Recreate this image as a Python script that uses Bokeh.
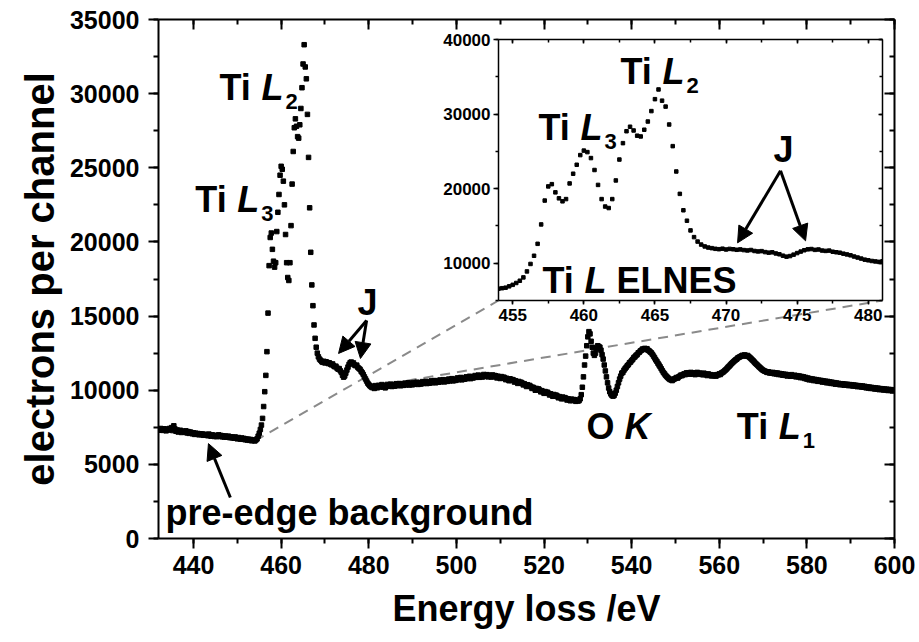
import numpy as np
from bokeh.plotting import figure
from bokeh.models import (Range1d, LinearAxis, SingleIntervalTicker, Label, Arrow,
                          NormalHead, ColumnDataSource, CustomJSTickFormatter)
from bokeh.embed import file_html
from bokeh.resources import INLINE

FONT = "Liberation Sans"

# ---------------- data: EELS spectrum, 0.25 eV per channel ----------------
E_START = 432.0
E_STEP = 0.25

counts_pre = [  # 432.00 - 454.75 eV
    7380, 7300, 7420, 7350, 7290, 7400, 7330, 7260, 7380, 7310, 7420, 7350,
    7480, 7280, 7600, 7390, 7230, 7320, 7180, 7260, 7300, 7150, 7240, 7200,
    7170, 7260, 7120, 7210, 7090, 7180, 7140, 7060, 7130, 7020, 7100, 7050,
    7080, 6990, 7060, 7010, 7050, 6960, 7030, 6980, 7000, 6930, 7040, 6950,
    6900, 6990, 6940, 6880, 6960, 6870, 6930, 6990, 6880, 6950, 6860, 6920,
    6840, 6910, 6830, 6880, 6900, 6800, 6860, 6790, 6830, 6760, 6850, 6780,
    6720, 6810, 6740, 6700, 6780, 6690, 6750, 6660, 6710, 6640, 6700, 6620,
    6680, 6590, 6650, 6610, 6580, 6650, 6720, 6900,
]
counts_edge = [  # 455.00 - 468.75 eV (Ti L3 / L2)
    7100, 7350, 7650, 8100, 8900, 9900, 11000, 12600,
    15200, 18400, 20300, 20600, 19500, 18700, 18300, 18600,
    20700, 22000, 23200, 24500, 25100, 24900, 24100, 22500,
    20500, 18600, 17600, 17400, 18600, 21100, 23900, 26100,
    27700, 28300, 27800, 27100, 27000, 27900, 29000, 30400,
    32000, 33300, 31800, 31000, 28600, 25700, 22300, 19300,
    17100, 15700, 14400, 13500, 12900, 12500, 12250, 12100,
]
counts_j = [  # 469.00 - 480.75 eV
    12020, 11930, 11880, 11950, 11840, 11920, 11870, 11800,
    11850, 11760, 11710, 11770, 11640, 11580, 11620, 11490,
    11420, 11460, 11310, 11200, 11010, 10880, 10960, 11150,
    11360, 11560, 11740, 11860, 11900, 11790, 11840, 11700,
    11650, 11690, 11540, 11470, 11410, 11280, 11180, 11060,
    10900, 10760, 10620, 10480, 10390, 10300, 10240, 10180,
]
counts_mid = [  # 481.00 - 527.75 eV
    10260, 10120, 10310, 10180, 10170, 10330, 10220, 10290,
    10380, 10210, 10300, 10160, 10240, 10390, 10270, 10350,
    10410, 10250, 10360, 10290, 10280, 10440, 10320, 10400,
    10450, 10300, 10420, 10330, 10330, 10480, 10360, 10440,
    10500, 10350, 10460, 10380, 10370, 10520, 10400, 10490,
    10540, 10390, 10500, 10420, 10430, 10580, 10460, 10550,
    10600, 10450, 10560, 10480, 10490, 10630, 10510, 10590,
    10650, 10500, 10620, 10540, 10540, 10690, 10570, 10650,
    10710, 10560, 10680, 10600, 10600, 10750, 10630, 10720,
    10780, 10630, 10740, 10660, 10690, 10830, 10710, 10790,
    10860, 10700, 10820, 10740, 10760, 10900, 10790, 10870,
    10940, 10780, 10900, 10830, 10850, 10990, 10870, 10950,
    11020, 10870, 10980, 10900, 10900, 11060, 10930, 11010,
    11050, 10900, 11010, 10930, 10890, 11030, 10920, 10990,
    10970, 10830, 10940, 10860, 10790, 10920, 10810, 10880,
    10850, 10710, 10800, 10730, 10640, 10770, 10660, 10720,
    10690, 10550, 10640, 10570, 10460, 10590, 10490, 10540,
    10480, 10360, 10440, 10370, 10250, 10370, 10270, 10320,
    10240, 10120, 10200, 10130, 10000, 10120, 10030, 10090,
    10010, 9890, 9970, 9900, 9790, 9910, 9810, 9870,
    9800, 9680, 9760, 9690, 9590, 9710, 9610, 9670,
    9610, 9490, 9570, 9500, 9420, 9540, 9440, 9500,
    9460, 9340, 9420, 9350, 9290, 9400, 9310, 9370,
    9360, 9250, 9330, 9270,
]
counts_ok = [  # 528.00 - 537.75 eV (O K)
    9300, 9420, 9700, 10200, 10900, 11700, 12300, 13000,
    13600, 13950, 13800, 13300, 12900, 12500, 12350, 12500,
    12800, 13000, 12950, 12900, 12700, 12400, 12100, 11700,
    11300, 10900, 10500, 10150, 9900, 9750, 9650, 9600,
    9650, 9800, 10000, 10250, 10500, 10750, 10950, 11150,
]
counts_high = [  # 538.00 - 600.00 eV (Ti L1)
    11200, 11350, 11450, 11550, 11650, 11720, 11850, 11900,
    12000, 12080, 12200, 12250, 12350, 12400, 12520, 12560,
    12650, 12700, 12780, 12760, 12820, 12750, 12800, 12700,
    12650, 12580, 12520, 12420, 12300, 12180, 12050, 11950,
    11820, 11700, 11580, 11450, 11320, 11200, 11100, 11000,
    10920, 10850, 10780, 10720, 10700, 10650, 10720, 10760,
    10800, 10860, 10820, 10900, 10950, 11020, 10980, 11060,
    11100, 11050, 11170, 11120, 11180, 11080, 11200, 11130,
    11090, 11180, 11050, 11150, 11200, 11100, 11160, 11070,
    11120, 11040, 11150, 11060, 11080, 10990, 11100, 11020,
    11050, 10960, 11030, 10980, 11000, 10950, 11050, 11030,
    11100, 11060, 11160, 11200, 11250, 11320, 11380, 11460,
    11550, 11620, 11700, 11780, 11850, 11920, 11990, 12050,
    12100, 12180, 12220, 12260, 12300, 12350, 12310, 12380,
    12350, 12300, 12340, 12260, 12200, 12130, 12050, 11980,
    11900, 11820, 11750, 11680, 11600, 11540, 11470, 11400,
    11350, 11300, 11280, 11230, 11200, 11240, 11160, 11190,
    11150, 11200, 11110, 11170, 11100, 11160, 11060, 11130,
    11050, 11110, 11010, 11080, 11000, 11070, 10960, 11040,
    11000, 10940, 11050, 10970, 10950, 11010, 10900, 10980,
    10900, 10960, 10850, 10930, 10850, 10900, 10790, 10860,
    10750, 10820, 10700, 10780, 10700, 10760, 10650, 10730,
    10650, 10710, 10600, 10680, 10600, 10660, 10550, 10630,
    10550, 10610, 10500, 10590, 10500, 10560, 10460, 10540,
    10450, 10510, 10410, 10490, 10400, 10460, 10370, 10440,
    10380, 10430, 10340, 10410, 10350, 10400, 10310, 10380,
    10320, 10370, 10280, 10350, 10280, 10330, 10240, 10310,
    10250, 10300, 10210, 10280, 10200, 10260, 10160, 10230,
    10150, 10210, 10120, 10190, 10120, 10170, 10080, 10150,
    10080, 10140, 10040, 10110, 10050, 10100, 10010, 10080,
    10020, 10070, 9980, 10050, 9990, 10040, 9950, 10010,
    9980,
]

counts = np.array(counts_pre + counts_edge + counts_j + counts_mid + counts_ok + counts_high, dtype=float)
energy = E_START + E_STEP * np.arange(len(counts))

# axis ranges / ticks
MAIN_X = (432, 600)
MAIN_Y = (0, 35000)
MAIN_X_STEP, MAIN_Y_STEP = 20, 5000
INSET_X = (454, 481)
INSET_Y = (5000, 40000)
INSET_X_STEP, INSET_Y_STEP = 5, 10000

# ---------------- layout constants (page pixels) ----------------
PAGE_W, PAGE_H = 919, 642
M_L, M_R, M_T, M_B = 158, 25, 19, 104
M_FW = PAGE_W - M_L - M_R
M_FH = PAGE_H - M_T - M_B
I_FL, I_FT, I_FW, I_FH = 498, 39, 384, 261   # inset frame in page px
I_L, I_R, I_T, I_B = 60, 6, 10, 30           # inset borders
TEXT_LIFT = 11                                # baseline correction (px)

src = ColumnDataSource(dict(x=energy, y=counts))
BLANK = CustomJSTickFormatter(code="return ''")


def style_axis(ax, size, out_major, in_major, out_minor, in_minor, lw, standoff):
    ax.axis_line_width = lw
    ax.axis_line_color = "black"
    ax.major_tick_line_width = lw
    ax.minor_tick_line_width = lw
    ax.major_tick_line_color = "black"
    ax.minor_tick_line_color = "black"
    ax.major_tick_out = out_major
    ax.major_tick_in = in_major
    ax.minor_tick_out = out_minor
    ax.minor_tick_in = in_minor
    ax.major_label_text_font = FONT
    ax.major_label_text_font_style = "bold"
    ax.major_label_text_font_size = size
    ax.major_label_text_color = "black"
    ax.major_label_standoff = standoff


def mirror_axis(fig, step, where, tick_in, minor_in, lw):
    ax = LinearAxis(ticker=SingleIntervalTicker(interval=step, num_minor_ticks=2),
                    formatter=BLANK)
    style_axis(ax, "1px", 0, tick_in, 0, minor_in, lw, 0)
    fig.add_layout(ax, where)


# ---------------- main figure ----------------
main = figure(width=PAGE_W, height=PAGE_H, x_range=Range1d(*MAIN_X), y_range=Range1d(*MAIN_Y),
              output_backend="svg", toolbar_location=None,
              min_border_left=M_L, min_border_right=M_R, min_border_top=M_T, min_border_bottom=M_B,
              background_fill_color="white", border_fill_color="white", outline_line_color=None)
main.xgrid.grid_line_color = None
main.ygrid.grid_line_color = None
main.xaxis.ticker = SingleIntervalTicker(interval=MAIN_X_STEP, num_minor_ticks=2)
main.yaxis.ticker = SingleIntervalTicker(interval=MAIN_Y_STEP, num_minor_ticks=2)
style_axis(main.xaxis[0], "25px", 10, 0, 5, 0, 2, 7)
style_axis(main.yaxis[0], "25px", 10, 0, 5, 0, 2, 9)
for ax, txt, so, fs in ((main.xaxis[0], "Energy loss /eV", 11, "36px"),
                        (main.yaxis[0], "electrons per channel", 5, "40px")):
    ax.axis_label = txt
    ax.axis_label_text_font = FONT
    ax.axis_label_text_font_style = "bold"
    ax.axis_label_text_font_size = fs
    ax.axis_label_text_color = "black"
    ax.axis_label_standoff = so

mirror_axis(main, MAIN_X_STEP, "above", 10, 5, 2)
mirror_axis(main, MAIN_Y_STEP, "right", 10, 5, 2)


def page_to_main(px, py):
    x = MAIN_X[0] + (px - M_L) / M_FW * (MAIN_X[1] - MAIN_X[0])
    y = MAIN_Y[0] + (M_T + M_FH - py) / M_FH * (MAIN_Y[1] - MAIN_Y[0])
    return x, y


# dashed connectors from the zoomed energy window to the inset frame corners
bl = page_to_main(I_FL, I_FT + I_FH)
br = page_to_main(I_FL + I_FW, I_FT + I_FH)
for e_end, corner in ((INSET_X[0], bl), (INSET_X[1], br)):
    main.line([e_end, corner[0]], [float(np.interp(e_end, energy, counts)), corner[1]],
              line_color="#8a8a8a", line_width=2, line_dash="10 7")

main.scatter("x", "y", source=src, marker="square", size=4.5, color="black")


def add_peak_label(fig, x, y, parts, size=36, sub_size=22):
    """parts: list of (text, style) where style in 'b', 'bi', 'sub'."""
    off = 0.0
    widths = {"Ti ": 1.167, "O ": 1.056, "L": 0.611, "K": 0.722, "L ": 0.889}
    for text, style in parts:
        if style == "sub":
            fig.add_layout(Label(x=x, y=y, x_offset=off + 2, y_offset=TEXT_LIFT - 14, text=text,
                                 text_font=FONT, text_font_style="bold",
                                 text_font_size=f"{sub_size}px", text_color="black",
                                 text_baseline="alphabetic", text_align="left"))
        else:
            fig.add_layout(Label(x=x, y=y, x_offset=off, y_offset=TEXT_LIFT, text=text,
                                 text_font=FONT,
                                 text_font_style="bold italic" if style == "bi" else "bold",
                                 text_font_size=f"{size}px", text_color="black",
                                 text_baseline="alphabetic", text_align="left"))
            off += widths.get(text, 0.6) * size


def add_arrow(fig, x0, y0, x1, y1, lw=3, head=16):
    fig.add_layout(Arrow(x_start=x0, y_start=y0, x_end=x1, y_end=y1, line_width=lw,
                         line_color="black",
                         end=NormalHead(size=head, fill_color="black", line_color="black",
                                        line_width=1)))


add_peak_label(main, 445.9, 29700, [("Ti ", "b"), ("L", "bi"), ("2", "sub")])
add_peak_label(main, 440.4, 22100, [("Ti ", "b"), ("L", "bi"), ("3", "sub")])
add_peak_label(main, 529.7, 6840, [("O ", "b"), ("K", "bi")])
add_peak_label(main, 564.0, 6840, [("Ti ", "b"), ("L", "bi"), ("1", "sub")])
add_peak_label(main, 477.4, 15170, [("J", "b")])
add_peak_label(main, 433.6, 1010, [("pre-edge background", "b")])
add_arrow(main, 479.5, 14700, 473.1, 12480)
add_arrow(main, 479.5, 14700, 478.1, 12140)
add_arrow(main, 448.4, 2765, 443.4, 6400)

# ---------------- inset figure ----------------
inset = figure(width=I_L + I_FW + I_R, height=I_T + I_FH + I_B,
               x_range=Range1d(*INSET_X), y_range=Range1d(*INSET_Y),
               output_backend="svg", toolbar_location=None,
               min_border_left=I_L, min_border_right=I_R, min_border_top=I_T, min_border_bottom=I_B,
               background_fill_color="white", border_fill_alpha=0, outline_line_color=None,
               styles={"position": "absolute", "left": f"{I_FL - I_L}px",
                       "top": f"{I_FT - I_T}px", "z-index": "5"})
inset.xgrid.grid_line_color = None
inset.ygrid.grid_line_color = None
inset.xaxis.ticker = SingleIntervalTicker(interval=INSET_X_STEP, num_minor_ticks=2)
inset.yaxis.ticker = SingleIntervalTicker(interval=INSET_Y_STEP, num_minor_ticks=2)
style_axis(inset.xaxis[0], "17px", 4, 0, 3, 0, 1.5, 4)
style_axis(inset.yaxis[0], "17px", 5, 0, 3, 0, 1.5, 3)
mirror_axis(inset, INSET_X_STEP, "above", 4, 3, 1.5)
mirror_axis(inset, INSET_Y_STEP, "right", 4, 3, 1.5)

inset.scatter("x", "y", source=src, marker="square", size=3.5, color="black")

add_peak_label(inset, 462.58, 34270, [("Ti ", "b"), ("L", "bi"), ("2", "sub")])
add_peak_label(inset, 456.81, 26670, [("Ti ", "b"), ("L", "bi"), ("3", "sub")])
add_peak_label(inset, 473.34, 23750, [("J", "b")])
add_peak_label(inset, 457.09, 6180, [("Ti ", "b"), ("L ", "bi"), ("ELNES", "b")])
add_arrow(inset, 473.83, 22400, 470.81, 12730)
add_arrow(inset, 473.83, 22400, 475.59, 13000)

open("out.html", "w").write(file_html([main, inset], INLINE))
